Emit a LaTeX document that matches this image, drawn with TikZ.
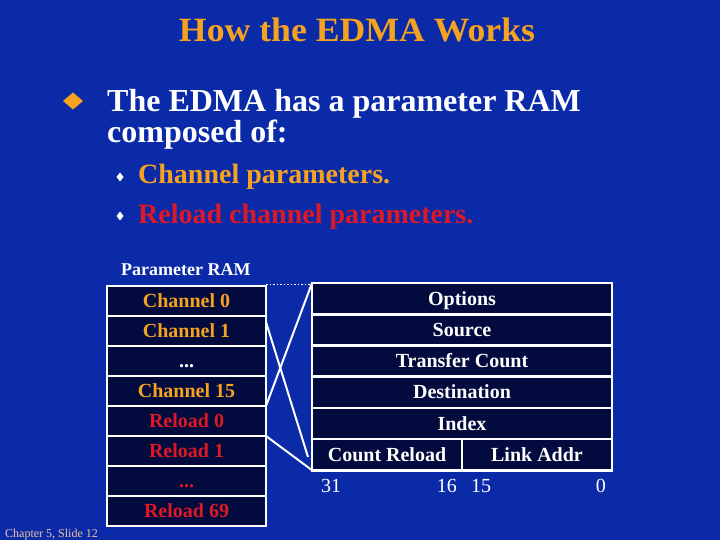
\documentclass[tikz,border=0pt]{standalone}
\usepackage{fontspec}
\setmainfont{Liberation Serif}
\usetikzlibrary{positioning}
\definecolor{slideblue}{RGB}{10,42,168}
\definecolor{cellnavy}{RGB}{2,10,62}
\definecolor{titleorange}{RGB}{245,162,32}
\definecolor{reloadred}{RGB}{222,24,36}
\definecolor{footpeach}{RGB}{240,196,164}
\newcommand{\celldots}{...}

\tikzset{
  ramcell/.style={draw=white, line width=2.6pt, fill=cellnavy, minimum width=159pt, minimum height=30pt,
    inner sep=0pt, outer sep=0pt, text height=13.5pt, text depth=0pt, font=\fontsize{20}{20}\selectfont\bfseries},
  parcell/.style={ramcell, minimum width=300pt, minimum height=31.2pt, text=white},
  halfcell/.style={parcell, minimum width=150pt},
  link/.style={white, line width=2pt},
  slidetext/.style={anchor=base west, inner sep=0pt, font=\fontsize{#1}{#1}\selectfont\bfseries},
}

\begin{document}
\begin{tikzpicture}[x=1pt, y=-1pt]
    % Slide background
    \fill[slideblue] (0,0) rectangle (720,540);
    \useasboundingbox (0,0) rectangle (720,540);

    % Title
    \node[anchor=base, text=titleorange, font=\fontsize{34}{34}\selectfont\bfseries] (title) at (357,42) {\scalebox{1.05}[1]{How the EDMA Works}};

    % Main bullet
    \fill[titleorange] (63,101) -- (73,92.5) -- (83,101) -- (73,109.5) -- cycle;
    \node[slidetext=32, text=white] (bulla) at (107,112) {The EDMA has a parameter RAM};
    \node[slidetext=32, text=white] (bullb) at (107,143) {composed of:};

    % Sub bullets
    \fill[white] (116.5,177) -- (120,172.5) -- (123.5,177) -- (120,181.5) -- cycle;
    \fill[white] (116.5,216) -- (120,211.5) -- (123.5,216) -- (120,220.5) -- cycle;
    \node[slidetext=28, text=titleorange] (subch) at (138,184) {Channel parameters.};
    \node[slidetext=28, text=reloadred] (subrl) at (138,223) {Reload channel parameters.};

    % Parameter RAM column
    \node[slidetext=18, text=white] (ramlbl) at (121,275) {Parameter RAM};
    \foreach \lbl/\name/\col [count=\i from 0] in {Channel 0/ch0/titleorange, Channel 1/ch1/titleorange,
        \celldots/chdots/white, Channel 15/ch15/titleorange, Reload 0/rl0/reloadred, Reload 1/rl1/reloadred,
        \celldots/rldots/reloadred, Reload 69/rl69/reloadred}
      \node[ramcell, text=\col] (\name) at (186.5,{301+30*\i}) {\lbl};

    % Channel parameter block
    \foreach \lbl/\name [count=\i from 0] in {Options/opt, Source/src, Transfer Count/xfr, Destination/dst, Index/idx}
      \node[parcell] (\name) at (462,{298.6+31.2*\i}) {\lbl};
    \node[halfcell] (cntrl) at (387,454.6) {Count Reload};
    \node[halfcell] (lnk) at (537,454.6) {Link Addr};

    % Bit numbers
    \node[anchor=base west, text=white, font=\fontsize{20}{20}\selectfont, inner sep=0pt] (b31) at (321,492) {31};
    \node[anchor=base east, text=white, font=\fontsize{20}{20}\selectfont, inner sep=0pt] (b16) at (457,492) {16};
    \node[anchor=base west, text=white, font=\fontsize{20}{20}\selectfont, inner sep=0pt] (b15) at (471,492) {15};
    \node[anchor=base east, text=white, font=\fontsize{20}{20}\selectfont, inner sep=0pt] (b0) at (606,492) {0};

    % Connectors
    \coordinate (cnttip) at (308,457);
    \draw[white, dotted, line width=1.5pt] ([yshift=1.5pt]ch0.north east) -- ([yshift=1.5pt]ch0.north east -| opt.west);
    \draw[link] ([yshift=-6pt]ch1.north east) -- (cnttip);
    \draw[link] (ch15.south east) -- (opt.north west);
    \draw[link] (rl1.north east) -- (cntrl.south west);

    % Footer
    \node[anchor=base west, text=footpeach, font=\fontsize{12}{12}\selectfont, inner sep=0pt] (foot) at (5,537) {Chapter 5, Slide 12};
\end{tikzpicture}
\end{document}
